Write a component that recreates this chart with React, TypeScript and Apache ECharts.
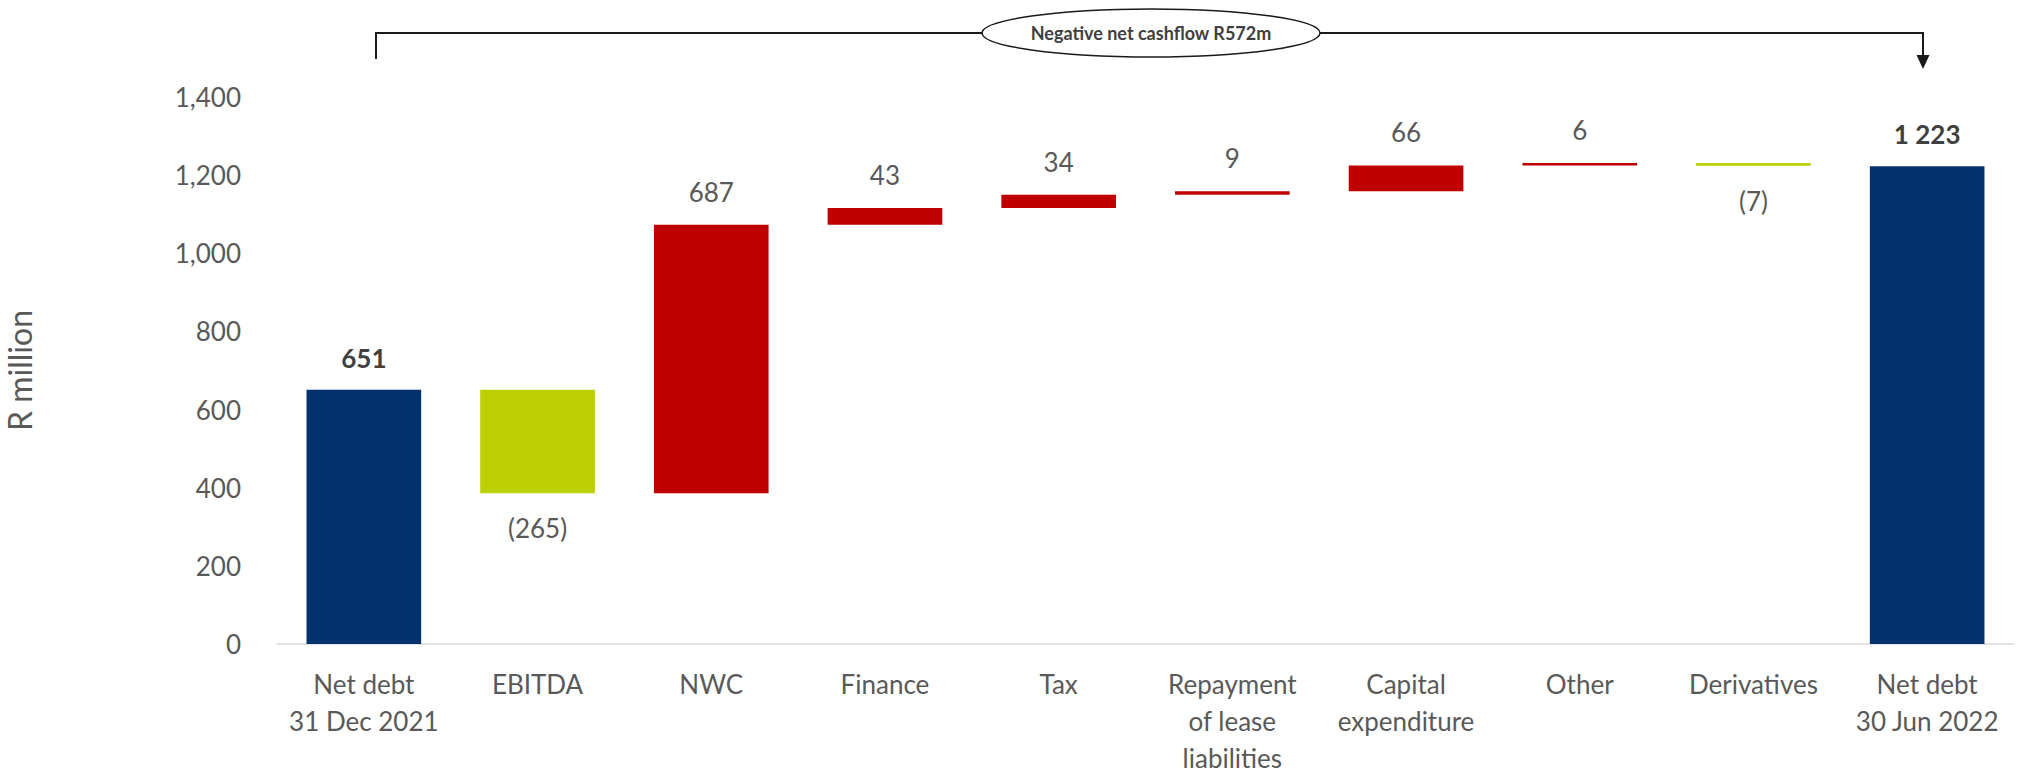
import React, { useEffect, useRef } from "react";
import * as echarts from "echarts";

const categories = [
  "Net debt\n31 Dec 2021",
  "EBITDA",
  "NWC",
  "Finance",
  "Tax",
  "Repayment\nof lease\nliabilities",
  "Capital\nexpenditure",
  "Other",
  "Derivatives",
  "Net debt\n30 Jun 2022",
];
const values = [651, -265, 687, 43, 34, 9, 66, 6, -7, 1223];
const kinds = ["total", "change", "change", "change", "change", "change", "change", "change", "change", "total"];
const yTicks = { min: 0, max: 1400, interval: 200 };
const annotationText = "Negative net cashflow R572m";

const BLUE = "#02316C";
const RED = "#C00000";
const GREEN = "#BCCF00";
const TEXT = "#595959";

function fmtTotal(v: number) {
  return String(v).replace(/\B(?=(\d{3})+(?!\d))/g, " ");
}

export default function App() {
  const ref = useRef<HTMLDivElement>(null);
  useEffect(() => {
    document.body.style.margin = "0";
    if (!ref.current) return;
    const chart = echarts.init(ref.current, null, { renderer: "svg" });

    let running = 0;
    const baseData: number[] = [];
    const barData: any[] = [];
    values.forEach((v, i) => {
      if (kinds[i] === "total") {
        baseData.push(0);
        running = v;
        barData.push({
          value: v,
          itemStyle: { color: BLUE },
          label: {
            show: true,
            position: "top",
            distance: 19,
            formatter: fmtTotal(v),
            fontWeight: "bold",
            color: "#404040",
          },
        });
      } else {
        const lo = Math.min(running, running + v);
        baseData.push(lo);
        running += v;
        const neg = v < 0;
        barData.push({
          value: Math.abs(v),
          itemStyle: { color: neg ? GREEN : RED },
          label: {
            show: true,
            position: neg ? "bottom" : "top",
            distance: neg ? 22 : 20,
            formatter: neg ? `(${Math.abs(v)})` : String(v),
            color: TEXT,
          },
        });
      }
    });

    const font = "Lato, 'Noto Sans', sans-serif";

    chart.setOption({
      animation: false,
      textStyle: { fontFamily: font },
      grid: { left: 277, right: 14, top: 97, bottom: 133, outerBoundsMode: "none", containLabel: false },
      xAxis: {
        type: "category",
        data: categories,
        axisLine: { lineStyle: { color: "#D9D9D9", width: 1.5 } },
        axisTick: { show: false },
        axisLabel: {
          interval: 0,
          fontSize: 26,
          lineHeight: 37,
          margin: 21,
          color: TEXT,
          fontFamily: font,
        },
      },
      yAxis: {
        type: "value",
        min: yTicks.min,
        max: yTicks.max,
        interval: yTicks.interval,
        splitLine: { show: false },
        axisLine: { show: false },
        axisTick: { show: false },
        axisLabel: {
          fontSize: 26,
          color: TEXT,
          margin: 36,
          fontFamily: font,
          formatter: (v: number) => v.toLocaleString("en-US"),
        },
        name: "R million",
        nameLocation: "middle",
        nameRotate: 90,
        nameGap: 242,
        nameTextStyle: { fontSize: 32, color: TEXT, fontFamily: font },
      },
      series: [
        {
          type: "bar",
          stack: "wf",
          data: baseData,
          itemStyle: { color: "transparent" },
          barWidth: "66%",
          silent: true,
        },
        {
          type: "bar",
          stack: "wf",
          data: barData,
          barWidth: "66%",
          label: { fontSize: 26, fontFamily: font },
        },
      ],
      graphic: [
        {
          type: "polyline",
          shape: { points: [[376, 59], [376, 33], [1923, 33], [1923, 57]] },
          style: { stroke: "#1a1a1a", lineWidth: 2, fill: "none" },
        },
        {
          type: "polygon",
          shape: { points: [[1916.5, 55], [1929.5, 55], [1923, 69]] },
          style: { fill: "#1a1a1a" },
        },
        {
          type: "ellipse",
          shape: { cx: 1151, cy: 33, rx: 169, ry: 24 },
          style: { fill: "#ffffff", stroke: "#1a1a1a", lineWidth: 1.5 },
        },
        {
          type: "text",
          x: 1151,
          y: 33,
          style: {
            text: annotationText,
            fontSize: 18,
            fontWeight: "bold",
            fill: "#404040",
            fontFamily: font,
            align: "center",
            verticalAlign: "middle",
          },
        },
      ],
    });
    return () => chart.dispose();
  }, []);
  return <div ref={ref} style={{ width: 2028, height: 777 }} />;
}
